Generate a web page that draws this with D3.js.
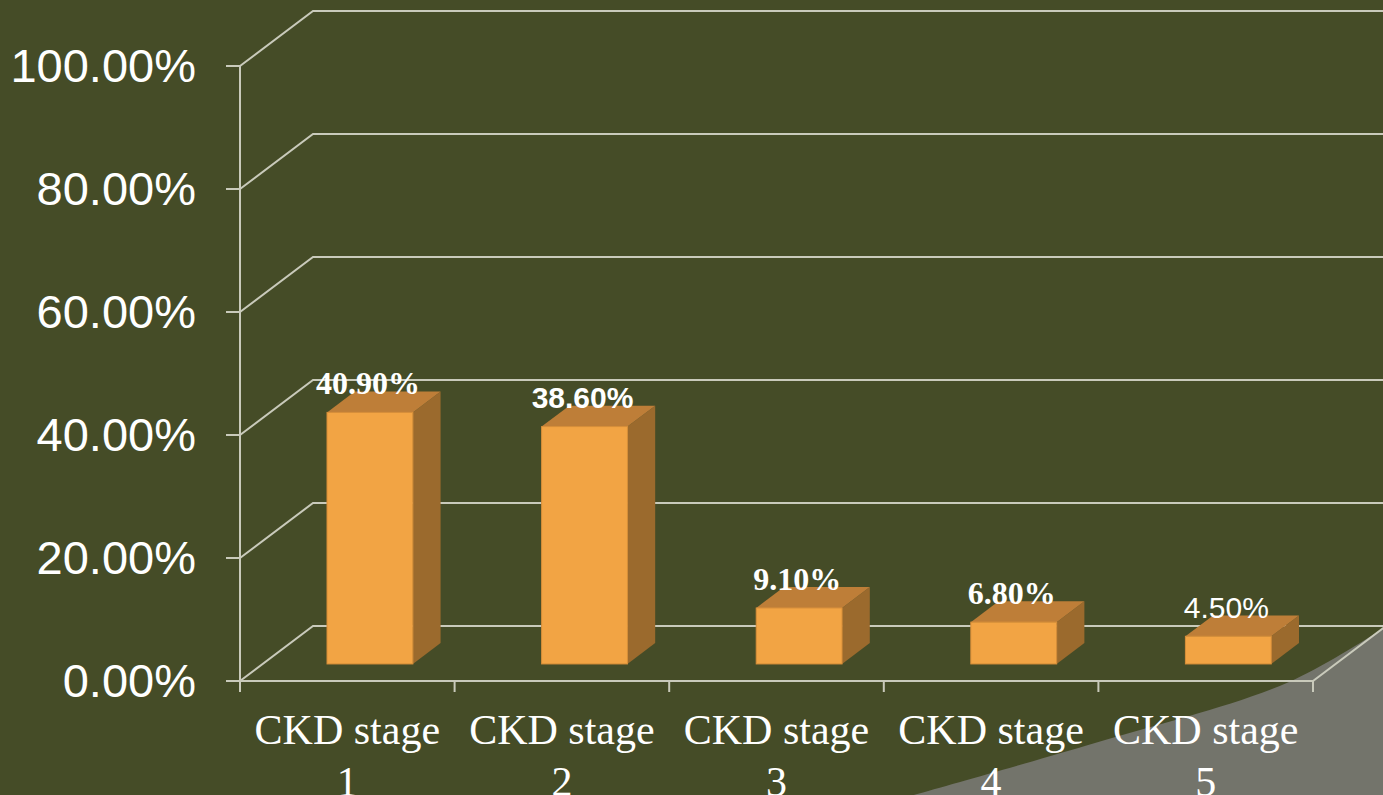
<!DOCTYPE html>
<html>
    <head>
        <meta charset="utf-8">
        <style>
            body { margin: 0; background: #454c27; overflow: hidden; }
        </style>
    </head>

    <body>

        <script src='https://d3js.org/d3.v7.min.js' charset='utf-8'></script>
        <script type="text/javascript">

        // data
        var categories = ["CKD stage 1", "CKD stage 2", "CKD stage 3", "CKD stage 4", "CKD stage 5"];
        var values = [40.9, 38.6, 9.1, 6.8, 4.5];
        var yTicks = [0, 20, 40, 60, 80, 100];

        // the value labels come in mixed fonts in the original slide
        var labelFonts = [
            { family: "Liberation Serif", weight: "bold", size: 32 },
            { family: "Liberation Sans", weight: "bold", size: 30 },
            { family: "Liberation Serif", weight: "bold", size: 32 },
            { family: "Liberation Serif", weight: "bold", size: 32 },
            { family: "Liberation Sans", weight: "normal", size: 30 }
        ];

        // variables
        var width = 1383, height = 795;
        var plotLeft = 240, plotRight = 1313, plotBottom = 681, plotTop = 66;
        var depthX = 73, depthY = -55;      // offset of the back wall
        var barFront = 0.31, barBack = 0.69; // bar depth as a share of the floor
        var gridColor = "#c9cabb";

        var svg = d3.select("body").append("svg")
            .attr("width", width)
            .attr("height", height);

        var x = d3.scaleBand()
            .domain(categories)
            .range([plotLeft, plotRight])
            .paddingInner(0.6)
            .paddingOuter(0.3);

        var y = d3.scaleLinear()
            .domain([0, 100])
            .range([plotBottom, plotTop]);

        // gray page curl in the corner of the slide
        var curl = [[896, 800], [1095, 743], [1289, 682], [1390, 624], [1390, 800]];
        svg.append("path")
            .attr("d", d3.line().curve(d3.curveCatmullRom)(curl.slice(0, 4)) + "L" + curl[4].join(",") + "Z")
            .attr("fill", "#73746b");

        // gridlines: short diagonal on the side wall, then along the back wall
        var grid = svg.append("g")
            .attr("fill", "none")
            .attr("stroke", gridColor)
            .attr("stroke-width", 2);

        grid.selectAll("path.grid")
            .data(yTicks)
            .enter().append("path")
                .attr("class", "grid")
                .attr("d", function(d) {
                    return "M" + plotLeft + "," + y(d) +
                        "L" + (plotLeft + depthX) + "," + (y(d) + depthY) +
                        "L" + (width + 5) + "," + (y(d) + depthY);
                });

        // y axis line and ticks
        grid.append("line")
            .attr("x1", plotLeft).attr("x2", plotLeft)
            .attr("y1", y(100)).attr("y2", plotBottom + 11);
        grid.selectAll("line.ytick")
            .data(yTicks)
            .enter().append("line")
                .attr("class", "ytick")
                .attr("x1", plotLeft - 14).attr("x2", plotLeft)
                .attr("y1", function(d) { return y(d); })
                .attr("y2", function(d) { return y(d); });

        // floor front edge and right edge
        grid.append("path")
            .attr("d", "M" + plotLeft + "," + plotBottom + "L" + plotRight + "," + plotBottom +
                "L" + (plotRight + depthX) + "," + (plotBottom + depthY));

        var boundaries = categories.map(function(c) { return x(c) - x.step() * x.paddingInner() / 2; });
        boundaries[0] = plotLeft;
        boundaries.push(plotRight);
        grid.selectAll("line.xtick")
            .data(boundaries)
            .enter().append("line")
                .attr("class", "xtick")
                .attr("x1", function(d) { return d; }).attr("x2", function(d) { return d; })
                .attr("y1", plotBottom).attr("y2", plotBottom + 11);

        // y labels
        svg.append("g").selectAll("text")
            .data(yTicks)
            .enter().append("text")
                .attr("x", 196)
                .attr("y", function(d) { return y(d); })
                .attr("dy", "0.35em")
                .attr("text-anchor", "end")
                .attr("fill", "white")
                .style("font-family", "'Liberation Sans', Arial, sans-serif")
                .style("font-size", "47px")
                .text(function(d) { return d3.format(".2f")(d) + "%"; });

        // x labels, two lines each
        var xl = svg.append("g").selectAll("text")
            .data(categories)
            .enter().append("text")
                .attr("text-anchor", "middle")
                .attr("fill", "white")
                .style("font-family", "'Liberation Serif', 'Times New Roman', serif")
                .style("font-size", "42px");
        xl.append("tspan")
            .attr("x", function(d) { return x(d) + x.bandwidth() / 2; })
            .attr("y", 744)
            .text(function(d) { return d.slice(0, d.lastIndexOf(" ")); });
        xl.append("tspan")
            .attr("x", function(d) { return x(d) + x.bandwidth() / 2; })
            .attr("y", 796)
            .text(function(d) { return d.slice(d.lastIndexOf(" ") + 1); });

        // 3d bars
        var bw = x.bandwidth();
        var fx = barFront * depthX, fy = barFront * depthY;
        var bx = (barBack - barFront) * depthX, by = (barBack - barFront) * depthY;

        var bars = svg.append("g").selectAll("g")
            .data(values)
            .enter().append("g")
                .attr("transform", function(d, i) { return "translate(" + (x(categories[i]) + fx) + "," + fy + ")"; });

        // side
        bars.append("path")
            .attr("fill", "#9b6a2d")
            .attr("d", function(d) {
                return "M" + bw + "," + y(d) + "L" + (bw + bx) + "," + (y(d) + by) +
                    "L" + (bw + bx) + "," + (y(0) + by) + "L" + bw + "," + y(0) + "Z";
            });
        // top
        bars.append("path")
            .attr("fill", "#be7e38")
            .attr("d", function(d) {
                return "M0," + y(d) + "L" + bx + "," + (y(d) + by) +
                    "L" + (bw + bx) + "," + (y(d) + by) + "L" + bw + "," + y(d) + "Z";
            });
        // front
        bars.append("rect")
            .attr("x", 0)
            .attr("y", function(d) { return y(d); })
            .attr("width", bw)
            .attr("height", function(d) { return y(0) - y(d); })
            .attr("fill", "#f2a444")
            .attr("stroke", "#d88f3a")
            .attr("stroke-width", 1);

        // value labels
        bars.append("text")
            .attr("x", bw / 2 - 2)
            .attr("y", function(d) { return y(d) + by + 2.5; })
            .attr("text-anchor", "middle")
            .attr("fill", "white")
            .style("font-family", function(d, i) { return "'" + labelFonts[i].family + "'"; })
            .style("font-weight", function(d, i) { return labelFonts[i].weight; })
            .style("font-size", function(d, i) { return labelFonts[i].size + "px"; })
            .text(function(d) { return d3.format(".2f")(d) + "%"; });

        </script>

    </body>
</html>
